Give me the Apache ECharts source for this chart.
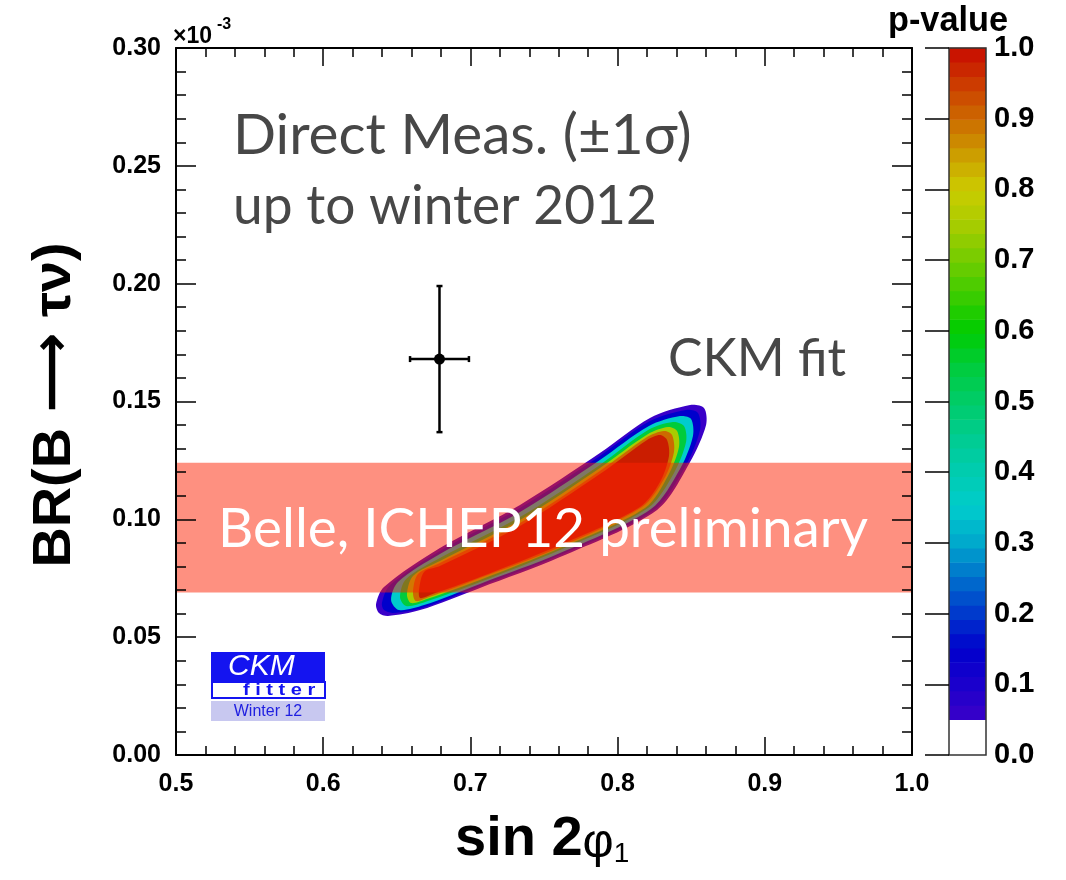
<!DOCTYPE html>
<html>
<head>
<meta charset="utf-8">
<script src="https://cdn.jsdelivr.net/npm/echarts@6/dist/echarts.min.js"></script>
<style>
  html, body { margin: 0; padding: 0; background: #ffffff; }
  #chart { width: 1066px; height: 880px; }
</style>
</head>
<body>
<div id="chart"></div>
<script>
// ---- axis ranges and tick labels ----
const X_RANGE = [0.5, 1.0];
const Y_RANGE = [0.0, 0.30];
const X_TICK_LABELS = ['0.5', '0.6', '0.7', '0.8', '0.9', '1.0'];
const Y_TICK_LABELS = ['0.00', '0.05', '0.10', '0.15', '0.20', '0.25', '0.30'];
const PVALUE_TICK_LABELS = ['0.0', '0.1', '0.2', '0.3', '0.4', '0.5', '0.6', '0.7', '0.8', '0.9', '1.0'];

// ---- direct measurement (point with 1 sigma errors) ----
const DIRECT_MEAS = [0.679, 0.168];     // [sin 2phi1, BR x 1e3]
const DIRECT_ERR = [0.020, 0.031];

// ---- Belle ICHEP12 band (BR x 1e3) ----
const BELLE_BAND = [0.069, 0.124];

// ---- CKM fit p-value contours: [sin 2phi1, BR x 1e3] ----
const CONTOUR_LEVELS = [0.05, 0.15, 0.35, 0.55, 0.75, 0.90, 0.98];
const CONTOUR_P05 = [[.6359,.0641],[.6413,.0713],[.6793,.0878],[.7337,.1061],[.7880,.1281],[.8220,.1430],[.8492,.1485],[.8587,.1472],[.8601,.1400],[.8492,.1243],[.8268,.1040],[.7609,.0840],[.7065,.0709],[.6658,.0615],[.6440,.0590],[.6379,.0603]];
const CONTOUR_P15 = [[.6399,.0645],[.6454,.0721],[.6793,.0866],[.7337,.1048],[.7880,.1269],[.8220,.1417],[.8465,.1464],[.8546,.1451],[.8560,.1379],[.8465,.1231],[.8247,.1040],[.7609,.0849],[.7065,.0717],[.6671,.0624],[.6474,.0603],[.6413,.0615]];
const CONTOUR_P35 = [[.6461,.0658],[.6508,.0734],[.6793,.0853],[.7337,.1031],[.7880,.1252],[.8213,.1396],[.8424,.1438],[.8499,.1426],[.8512,.1354],[.8424,.1214],[.8227,.1044],[.7609,.0857],[.7065,.0726],[.6685,.0636],[.6515,.0615]];
const CONTOUR_P55 = [[.6522,.0670],[.6563,.0747],[.6793,.0836],[.7337,.1010],[.7880,.1231],[.8207,.1379],[.8376,.1413],[.8451,.1396],[.8465,.1328],[.8383,.1197],[.8207,.1048],[.7609,.0870],[.7065,.0734],[.6692,.0649],[.6563,.0632]];
const CONTOUR_P75 = [[.6569,.0683],[.6610,.0760],[.6793,.0823],[.7337,.0997],[.7880,.1218],[.8207,.1362],[.8342,.1392],[.8404,.1375],[.8417,.1307],[.8342,.1184],[.8186,.1048],[.7609,.0878],[.7065,.0743],[.6705,.0662],[.6596,.0645]];
const CONTOUR_P90 = [[.6610,.0692],[.6644,.0768],[.6793,.0815],[.7337,.0984],[.7880,.1205],[.8200,.1349],[.8315,.1375],[.8370,.1358],[.8383,.1286],[.8315,.1171],[.8166,.1052],[.7609,.0883],[.7065,.0751],[.6719,.0670],[.6630,.0653]];
const CONTOUR_P98 = [[.6651,.0700],[.6685,.0777],[.6793,.0802],[.7337,.0972],[.7880,.1192],[.8200,.1337],[.8288,.1358],[.8336,.1337],[.8349,.1269],[.8288,.1158],[.8152,.1052],[.7609,.0891],[.7065,.0755],[.6726,.0679],[.6658,.0666]];
const CONTOURS = [CONTOUR_P05, CONTOUR_P15, CONTOUR_P35, CONTOUR_P55, CONTOUR_P75, CONTOUR_P90, CONTOUR_P98];

// ---- p-value colour palette ----
const PALETTE_STOPS = [0.05, 0.10, 0.15, 0.20, 0.25, 0.30, 0.35, 0.40, 0.45, 0.50,
                       0.55, 0.60, 0.65, 0.70, 0.75, 0.80, 0.85, 0.90, 0.95, 1.00];
const PALETTE_COLORS = ['#3a00c8', '#1a00cc', '#0000cc', '#0038cc', '#0070cc', '#00a8cc', '#00cccc', '#00ccb0', '#00cc90', '#00cc68',
                        '#00cc3c', '#00cc00', '#3ccc00', '#74cc00', '#a8cc00', '#cccc00', '#cc9c00', '#cc6a00', '#cc3a00', '#c80a00'];
const PALETTE_BANDS = 47;   // colour steps between 0.05 and 1.0

function hexToRgb(h) {
  return [parseInt(h.slice(1, 3), 16), parseInt(h.slice(3, 5), 16), parseInt(h.slice(5, 7), 16)];
}
function colorAt(p) {
  if (p <= PALETTE_STOPS[0]) return PALETTE_COLORS[0];
  const n = PALETTE_STOPS.length;
  if (p >= PALETTE_STOPS[n - 1]) return PALETTE_COLORS[n - 1];
  let i = 0;
  while (PALETTE_STOPS[i + 1] < p) i++;
  const t = (p - PALETTE_STOPS[i]) / (PALETTE_STOPS[i + 1] - PALETTE_STOPS[i]);
  const a = hexToRgb(PALETTE_COLORS[i]), b = hexToRgb(PALETTE_COLORS[i + 1]);
  const c = a.map((v, k) => Math.round(v + (b[k] - v) * t));
  return 'rgb(' + c.join(',') + ')';
}

// colour bar steps
const barBands = [];
for (let k = 0; k < PALETTE_BANDS; k++) {
  const lo = 0.05 + k * 0.95 / PALETTE_BANDS;
  const hi = 0.05 + (k + 1) * 0.95 / PALETTE_BANDS;
  barBands.push([0.5, lo, hi]);
}

// ---- fonts ----
const AXIS_FONT = "'Liberation Sans', Arial, Helvetica, sans-serif";
const NOTE_FONT = "Lato, 'Open Sans', sans-serif";
const measureCtx = document.createElement('canvas').getContext('2d');
function textWidth(text, font) {
  measureCtx.font = font;
  return measureCtx.measureText(text).width;
}
function fitSize(text, weight, family, width) {
  return 100 * width / textWidth(text, weight + ' 100px ' + family);
}

const chart = echarts.init(document.getElementById('chart'), null, { renderer: 'canvas' });

const tickStyle = { color: '#000', width: 1.5 };
function frameX(position, showLabel) {
  return {
    gridIndex: 0, type: 'value', position: position,
    min: X_RANGE[0], max: X_RANGE[1], interval: 0.1, z: 10,
    axisLine: { show: true, onZero: false, lineStyle: { color: '#000', width: 2 } },
    axisTick: { show: true, inside: true, length: 18, lineStyle: tickStyle },
    minorTick: { show: true, splitNumber: 5, length: 9, lineStyle: tickStyle },
    splitLine: { show: false },
    axisLabel: {
      show: showLabel, margin: 17, color: '#000', fontSize: 25, fontWeight: 'bold', fontFamily: AXIS_FONT,
      formatter: v => X_TICK_LABELS[Math.round((v - X_RANGE[0]) / 0.1)]
    }
  };
}
function frameY(position, showLabel) {
  return {
    gridIndex: 0, type: 'value', position: position,
    min: Y_RANGE[0], max: Y_RANGE[1], interval: 0.05, z: 10,
    axisLine: { show: true, onZero: false, lineStyle: { color: '#000', width: 2 } },
    axisTick: { show: true, inside: true, length: 20, lineStyle: tickStyle },
    minorTick: { show: true, splitNumber: 5, length: 10, lineStyle: tickStyle },
    splitLine: { show: false },
    axisLabel: {
      show: showLabel, margin: 15, color: '#000', fontSize: 25, fontWeight: 'bold', fontFamily: AXIS_FONT,
      formatter: v => Y_TICK_LABELS[Math.round(v / 0.05)]
    }
  };
}

const notes = [
  { text: 'Direct Meas. (±1σ)', x: 233, y: 136, w: 459, color: '#474747' },
  { text: 'up to winter 2012', x: 233, y: 207, w: 424, color: '#474747' },
  { text: 'CKM fit', x: 668, y: 359, w: 178, color: '#474747' },
  { text: 'Belle, ICHEP12 preliminary', x: 218, y: 529, w: 650, color: '#ffffff' }
];
const noteGraphics = notes.map(n => ({
  type: 'text', x: n.x, y: n.y, z: 50, silent: true,
  style: {
    text: n.text, fill: n.color,
    font: '400 ' + fitSize(n.text, '400', NOTE_FONT, n.w).toFixed(1) + 'px ' + NOTE_FONT,
    verticalAlign: 'middle'
  }
}));

// y title: bold letters with a long arrow between
const Y_TITLE_PARTS = ['BR(B ', '\u27f6', ' \u03c4\u03bd)'];
const yTitleLen = textWidth(Y_TITLE_PARTS[0], 'bold 54px ' + AXIS_FONT) +
                  textWidth(Y_TITLE_PARTS[1], 'bold 54px DejaVu Sans') +
                  textWidth(Y_TITLE_PARTS[2], 'bold 54px ' + AXIS_FONT);
const yTitleScale = 325 / yTitleLen;
const pvTitleSize = fitSize('p-value', 'bold', AXIS_FONT, 120);

const option = {
  backgroundColor: '#ffffff',
  animation: false,
  grid: [
    { left: 176, top: 48, width: 736, height: 707, show: false },
    { left: 949, top: 48, width: 37, height: 707, show: false }
  ],
  xAxis: [
    frameX('bottom', true),
    frameX('top', false),
    { gridIndex: 1, type: 'value', min: 0, max: 1, show: false }
  ],
  yAxis: [
    frameY('left', true),
    frameY('right', false),
    {
      gridIndex: 1, type: 'value', position: 'right', min: 0, max: 1, interval: 0.1, z: 10,
      axisLine: { show: false },
      axisTick: { show: true, inside: true, length: 24, lineStyle: tickStyle },
      splitLine: { show: false },
      axisLabel: {
        margin: 8, color: '#000', fontSize: 29, fontWeight: 'bold', fontFamily: AXIS_FONT,
        formatter: v => PVALUE_TICK_LABELS[Math.round(v * 10)]
      }
    }
  ],
  series: [
    {
      // nested p-value contours of the CKM fit
      type: 'custom', name: 'CKM fit', xAxisIndex: 0, yAxisIndex: 0, z: 2, silent: true,
      data: CONTOURS.map((c, i) => [c[0][0], c[0][1], i]),
      renderItem: (params, api) => {
        const i = params.dataIndex;
        const pts = CONTOURS[i].map(p => api.coord(p));
        return {
          type: 'polygon',
          shape: { points: pts, smooth: 0.3 },
          style: { fill: colorAt(CONTOUR_LEVELS[i]) }
        };
      }
    },
    {
      // Belle measurement band
      type: 'custom', name: 'Belle', xAxisIndex: 0, yAxisIndex: 0, z: 3, silent: true,
      data: [[X_RANGE[0], BELLE_BAND[0], X_RANGE[1], BELLE_BAND[1]]],
      renderItem: (params, api) => {
        const p1 = api.coord([api.value(0), api.value(3)]);
        const p2 = api.coord([api.value(2), api.value(1)]);
        return {
          type: 'rect',
          shape: { x: p1[0], y: p1[1], width: p2[0] - p1[0], height: p2[1] - p1[1] },
          style: { fill: 'rgba(253,33,1,0.5)' }
        };
      }
    },
    {
      // direct measurement with its error bars
      type: 'custom', name: 'Direct', xAxisIndex: 0, yAxisIndex: 0, z: 4, silent: true,
      data: [[DIRECT_MEAS[0], DIRECT_MEAS[1], DIRECT_ERR[0], DIRECT_ERR[1]]],
      renderItem: (params, api) => {
        const x = api.value(0), y = api.value(1), ex = api.value(2), ey = api.value(3);
        const c = api.coord([x, y]);
        const l = api.coord([x - ex, y]), r = api.coord([x + ex, y]);
        const t = api.coord([x, y + ey]), b = api.coord([x, y - ey]);
        const st = { stroke: '#000', lineWidth: 2.5 };
        const cap = 3;
        return {
          type: 'group',
          children: [
            { type: 'line', shape: { x1: l[0], y1: l[1], x2: r[0], y2: r[1] }, style: st },
            { type: 'line', shape: { x1: t[0], y1: t[1], x2: b[0], y2: b[1] }, style: st },
            { type: 'line', shape: { x1: l[0], y1: l[1] - cap, x2: l[0], y2: l[1] + cap }, style: st },
            { type: 'line', shape: { x1: r[0], y1: r[1] - cap, x2: r[0], y2: r[1] + cap }, style: st },
            { type: 'line', shape: { x1: t[0] - cap, y1: t[1], x2: t[0] + cap, y2: t[1] }, style: st },
            { type: 'line', shape: { x1: b[0] - cap, y1: b[1], x2: b[0] + cap, y2: b[1] }, style: st },
            { type: 'circle', shape: { cx: c[0], cy: c[1], r: 5.5 }, style: { fill: '#000' } }
          ]
        };
      }
    },
    {
      // p-value colour bar
      type: 'custom', name: 'palette', xAxisIndex: 2, yAxisIndex: 2, z: 2, silent: true,
      data: barBands,
      renderItem: (params, api) => {
        const lo = api.value(1), hi = api.value(2);
        const p1 = api.coord([0, hi]);
        const p2 = api.coord([1, lo]);
        return {
          type: 'rect',
          shape: { x: p1[0], y: p1[1] - 0.3, width: p2[0] - p1[0], height: p2[1] - p1[1] + 0.6 },
          style: { fill: colorAt((lo + hi) / 2) }
        };
      }
    },
    {
      // colour bar frame
      type: 'custom', name: 'palette frame', xAxisIndex: 2, yAxisIndex: 2, z: 5, silent: true,
      data: [[0.5, 0.5]],
      renderItem: (params) => {
        const cs = params.coordSys;
        return {
          type: 'rect',
          shape: { x: cs.x, y: cs.y, width: cs.width, height: cs.height },
          style: { fill: 'none', stroke: '#333', lineWidth: 1.5 }
        };
      }
    }
  ],
  graphic: [
    ...noteGraphics,
    // axis titles
    {
      type: 'text', x: 55, y: 405, rotation: Math.PI / 2, scaleX: yTitleScale, silent: true,
      style: {
        text: '{a|' + Y_TITLE_PARTS[0] + '}{b|' + Y_TITLE_PARTS[1] + '}{a|' + Y_TITLE_PARTS[2] + '}',
        align: 'center', verticalAlign: 'middle',
        rich: {
          a: { fontSize: 54, fontWeight: 'bold', fontFamily: AXIS_FONT, fill: '#000' },
          b: { fontSize: 54, fontWeight: 'bold', fontFamily: 'DejaVu Sans', fill: '#000' }
        }
      }
    },
    {
      type: 'text', x: 455, y: 840, silent: true,
      style: {
        text: '{a|sin 2}{b|\u03c6}{c|1}', verticalAlign: 'middle',
        rich: {
          a: { fontSize: 56, fontWeight: 'bold', fontFamily: AXIS_FONT, fill: '#000', verticalAlign: 'bottom' },
          b: { fontSize: 48, fontFamily: AXIS_FONT, fill: '#000', verticalAlign: 'bottom' },
          c: { fontSize: 28, fontFamily: AXIS_FONT, fill: '#000', verticalAlign: 'bottom' }
        }
      }
    },
    // exponent of the y axis
    { type: 'text', x: 173, y: 37, silent: true,
      style: { text: '\u00d710', fill: '#000', font: 'bold 23px ' + AXIS_FONT, verticalAlign: 'middle' } },
    { type: 'text', x: 217, y: 25, silent: true,
      style: { text: '-3', fill: '#000', font: 'bold 16px ' + AXIS_FONT, verticalAlign: 'middle' } },
    // colour bar title
    { type: 'text', x: 948, y: 22, silent: true,
      style: { text: 'p-value', fill: '#000', font: 'bold ' + pvTitleSize.toFixed(1) + 'px ' + AXIS_FONT, align: 'center', verticalAlign: 'middle' } },
    // CKMfitter logo
    {
      type: 'group', x: 211, y: 652, silent: true,
      children: [
        { type: 'rect', shape: { x: 0, y: 0, width: 114, height: 30 }, style: { fill: '#1414f0' } },
        { type: 'text', x: 17, y: 15, style: { text: 'CKM', fill: '#ffffff', font: 'italic 30px ' + AXIS_FONT, verticalAlign: 'middle' } },
        { type: 'rect', shape: { x: 1, y: 30, width: 113, height: 16 }, style: { fill: '#ffffff', stroke: '#1414f0', lineWidth: 2 } },
        { type: 'text', x: 32, y: 38.5, scaleX: 1.25, style: { text: 'f i t t e r', fill: '#1414f0', font: 'bold 16px ' + AXIS_FONT, verticalAlign: 'middle' } },
        { type: 'rect', shape: { x: 0, y: 49, width: 114, height: 20 }, style: { fill: '#c8c8f0' } },
        { type: 'text', x: 57, y: 59.5, style: { text: 'Winter 12', fill: '#1e1ee0', font: '16px ' + AXIS_FONT, align: 'center', verticalAlign: 'middle' } }
      ]
    }
  ]
};

chart.setOption(option);
</script>
</body>
</html>
